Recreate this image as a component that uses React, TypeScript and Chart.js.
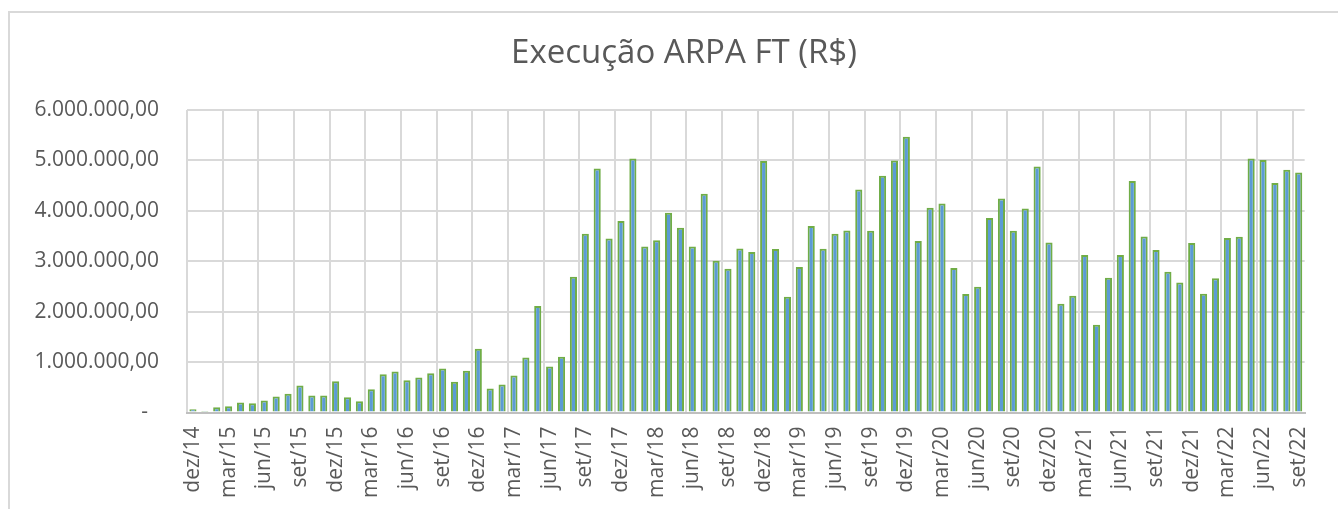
import React, { useEffect, useRef } from "react";
import { Chart, registerables } from "chart.js";

Chart.register(...registerables);

const monthNames = ["jan", "fev", "mar", "abr", "mai", "jun", "jul", "ago", "set", "out", "nov", "dez"];

// Monthly categories dez/14 .. set/22
const categories: string[] = (() => {
  const out: string[] = [];
  let y = 2014;
  let m = 11;
  while (!(y === 2022 && m === 9)) {
    out.push(`${monthNames[m]}/${String(y).slice(2)}`);
    m++;
    if (m === 12) { m = 0; y++; }
  }
  return out;
})();

const execucao: number[] = [
  66000, 30000, 106000, 126000, 198000, 185000, 238000, 317000, 370000, 536000,
  337000, 337000, 622000, 304000, 225000, 463000, 760000, 813000, 640000, 694000,
  780000, 873000, 608000, 827000, 1263000, 476000, 556000, 734000, 1091000, 2110000,
  913000, 1104000, 2692000, 3545000, 4841000, 3452000, 3796000, 5040000, 3294000, 3419000,
  3962000, 3664000, 3294000, 4339000, 3009000, 2851000, 3254000, 3181000, 4987000, 3241000,
  2295000, 2884000, 3697000, 3247000, 3545000, 3611000, 4425000, 3604000, 4696000, 5000000,
  5470000, 3400000, 4061000, 4147000, 2864000, 2348000, 2493000, 3856000, 4246000, 3604000,
  4048000, 4881000, 3373000, 2156000, 2315000, 3122000, 1739000, 2672000, 3122000, 4590000,
  3492000, 3221000, 2791000, 2579000, 3360000, 2354000, 2665000, 3459000, 3485000, 5040000,
  5007000, 4550000, 4815000, 4762000,
];

const yTicks: number[] = [0, 1000000, 2000000, 3000000, 4000000, 5000000, 6000000];

const titleText = "Execução ARPA FT (R$)";

const fmt = (v: number): string => {
  if (v === 0) return "-  ";
  const s = Math.round(v).toString().replace(/\B(?=(\d{3})+(?!\d))/g, ".");
  return s + ",00";
};

const framePlugin = {
  id: "frame",
  beforeDraw(chart: any) {
    const ctx = chart.ctx;
    ctx.save();
    ctx.fillStyle = "#d9d9d9";
    ctx.fillRect(8, 11, 2, chart.height - 11);
    ctx.fillRect(8, 11, chart.width - 8, 2);
    ctx.restore();
  },
  afterDraw(chart: any) {
    const ctx = chart.ctx;
    ctx.save();
    ctx.fillStyle = "#595959";
    ctx.font = "33px 'Open Sans'";
    ctx.textAlign = "center";
    ctx.textBaseline = "alphabetic";
    ctx.fillText(titleText, 684, 63);
    ctx.restore();
  },
};

export default function App() {
  const ref = useRef<HTMLCanvasElement | null>(null);

  useEffect(() => {
    if (!ref.current) return;
    const chart = new Chart(ref.current, {
      type: "bar",
      data: {
        labels: categories,
        datasets: [
          {
            label: titleText,
            data: execucao,
            backgroundColor: "#5B9BD5",
            borderColor: "#70AD47",
            borderWidth: 2,
            borderSkipped: "start",
            categoryPercentage: 1,
            barPercentage: 0.6,
          },
        ],
      },
      options: {
        animation: false,
        responsive: false,
        maintainAspectRatio: false,
        devicePixelRatio: 1,
        layout: { padding: { left: 0, right: 18, top: 110, bottom: 0 } },
        plugins: {
          legend: { display: false },
          tooltip: { enabled: false },
          title: { display: false },
        },
        scales: {
          x: {
            offset: true,
            grid: {
              offset: true,
              drawTicks: false,
              lineWidth: 2,
              color: (c: any) => (c.index !== undefined && c.index % 3 === 0 ? "#d9d9d9" : "rgba(0,0,0,0)"),
            },
            border: { display: true, color: "#bfbfbf", width: 2 },
            ticks: {
              autoSkip: false,
              maxRotation: 90,
              minRotation: 90,
              padding: 14,
              color: "#595959",
              font: { family: "'Open Sans'", size: 21 },
              callback: (_v: any, i: number) => (i % 3 === 0 ? categories[i] : ""),
            },
            afterFit: (s: any) => {
              s.height = 96.5;
            },
          },
          y: {
            min: 0,
            max: 6000000,
            grid: { drawTicks: false, lineWidth: 2, color: "#d9d9d9" },
            border: { display: false },
            afterBuildTicks: (s: any) => {
              s.ticks = yTicks.map((v) => ({ value: v }));
            },
            ticks: {
              padding: 28,
              color: "#595959",
              font: { family: "'Open Sans'", size: 21 },
              callback: (v: any) => fmt(Number(v)),
            },
            afterFit: (s: any) => {
              s.width = 187;
            },
          },
        },
      },
      plugins: [framePlugin],
    });
    return () => chart.destroy();
  }, []);

  return (
    <div style={{ position: "fixed", left: 0, top: 0, width: 1338, height: 509, background: "#fff", overflow: "hidden" }}>
      <canvas ref={ref} width={1338} height={509} style={{ display: "block", width: 1338, height: 509 }} />
    </div>
  );
}
